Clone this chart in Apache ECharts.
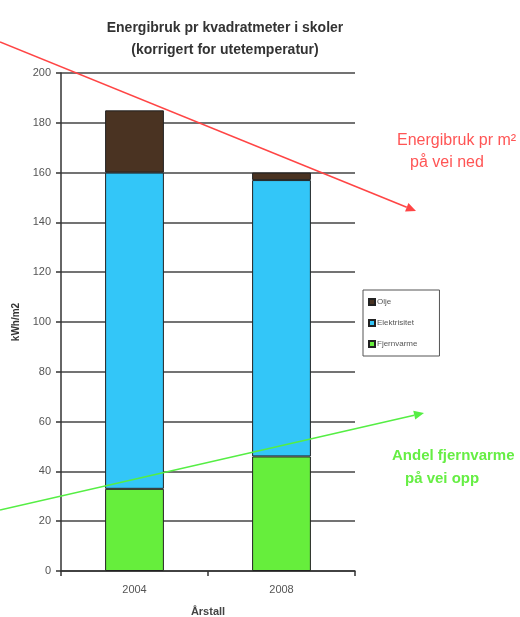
<!DOCTYPE html>
<html>
<head>
<meta charset="utf-8">
<script src="https://cdn.jsdelivr.net/npm/echarts@6/dist/echarts.min.js"></script>
<style>
  html, body { margin: 0; padding: 0; background: #fff; }
  #root { width: 520px; height: 617px; }
</style>
</head>
<body>
<div id="root"></div>
<script>
var years = ['2004', '2008'];
var fjernvarme = [33, 46];
var elektrisitet = [127, 111];
var olje = [25, 3];
var yTicks = { min: 0, max: 200, step: 20 };

var font = '"Liberation Sans", Arial, sans-serif';

// arrow = line + small filled head, pixel annotation
function arrow( x1, y1, x2, y2, color )
{
	var dx = x2 - x1, dy = y2 - y1;
	var len = Math.sqrt( dx * dx + dy * dy );
	var ux = dx / len, uy = dy / len;
	var bx = x2 - ux * 10, by = y2 - uy * 10;
	return [
		{
			type: 'line', silent: true, z: 100,
			shape: { x1: x1, y1: y1, x2: bx, y2: by },
			style: { stroke: color, lineWidth: 1.6 }
		},
		{
			type: 'polygon', silent: true, z: 100,
			shape: { points: [ [x2, y2], [bx - uy * 4.5, by + ux * 4.5], [bx + uy * 4.5, by - ux * 4.5] ] },
			style: { fill: color }
		}
	];
}

var chart = echarts.init( document.getElementById('root') );

var barStyle = function( color ){
	return { color: color, borderColor: '#222', borderWidth: 1 };
};

var option = {
	animation: false,
	backgroundColor: '#fff',
	title: {
		text: 'Energibruk pr kvadratmeter i skoler\n(korrigert for utetemperatur)',
		left: 220, top: 12, textAlign: 'center',
		textStyle: { fontFamily: font, fontSize: 14, fontWeight: 'bold', color: '#333', lineHeight: 22 }
	},
	legend: {
		orient: 'vertical',
		left: 363, top: 290,
		width: 78,
		data: ['Olje', 'Elektrisitet', 'Fjernvarme'],
		icon: 'rect',
		itemWidth: 6, itemHeight: 6, itemGap: 13,
		padding: [8, 22, 8, 5],
		borderColor: '#555', borderWidth: 1,
		textStyle: { fontFamily: font, fontSize: 8, color: '#555', padding: [0, 0, 0, -3] }
	},
	grid: { left: 61, right: 165, top: 73, bottom: 46, outerBoundsMode: 'none', containLabel: false },
	xAxis: {
		type: 'category',
		data: years,
		name: 'Årstall',
		nameLocation: 'middle',
		nameGap: 35,
		nameTextStyle: { fontFamily: font, fontSize: 11, fontWeight: 'bold', color: '#444' },
		axisLine: { lineStyle: { color: '#333', width: 1.5 } },
		axisTick: { show: true, length: 5, lineStyle: { color: '#333', width: 1.5 } },
		axisLabel: { fontFamily: font, fontSize: 11, color: '#555', margin: 13 }
	},
	yAxis: {
		type: 'value',
		min: yTicks.min, max: yTicks.max, interval: yTicks.step,
		name: 'kWh/m2',
		nameLocation: 'middle',
		nameRotate: 90,
		nameGap: 40,
		nameTextStyle: { fontFamily: font, fontSize: 10, fontWeight: 'bold', color: '#333' },
		axisLine: { show: true, lineStyle: { color: '#333', width: 1.5 } },
		axisTick: { show: true, length: 5, lineStyle: { color: '#333', width: 1.5 } },
		axisLabel: { fontFamily: font, fontSize: 11, color: '#555', margin: 10 },
		splitLine: { lineStyle: { color: '#444', width: 1.5 } }
	},
	series: [
		{ name: 'Fjernvarme', type: 'bar', stack: 'e', data: fjernvarme, barWidth: '40%', itemStyle: barStyle('#66ee3c') },
		{ name: 'Elektrisitet', type: 'bar', stack: 'e', data: elektrisitet, barWidth: '40%', itemStyle: barStyle('#33c6f8') },
		{ name: 'Olje', type: 'bar', stack: 'e', data: olje, barWidth: '40%', itemStyle: barStyle('#4a3322') }
	],
	graphic: [].concat(
		arrow( 0, 42, 416, 211, '#ff4545' ),
		arrow( 0, 510, 424, 413, '#55ee44' ),
		[
			{
				type: 'text', left: 397, top: 133,
				style: { text: 'Energibruk pr m²', fill: '#ff5555', font: '16px ' + font }
			},
			{
				type: 'text', left: 410, top: 155,
				style: { text: 'på vei ned', fill: '#ff5555', font: '16px ' + font }
			},
			{
				type: 'text', left: 392, top: 448,
				style: { text: 'Andel fjernvarme', fill: '#66ee44', font: 'bold 15px ' + font }
			},
			{
				type: 'text', left: 405, top: 471,
				style: { text: 'på vei opp', fill: '#66ee44', font: 'bold 15px ' + font }
			}
		]
	)
};

chart.setOption( option );
</script>
</body>
</html>
